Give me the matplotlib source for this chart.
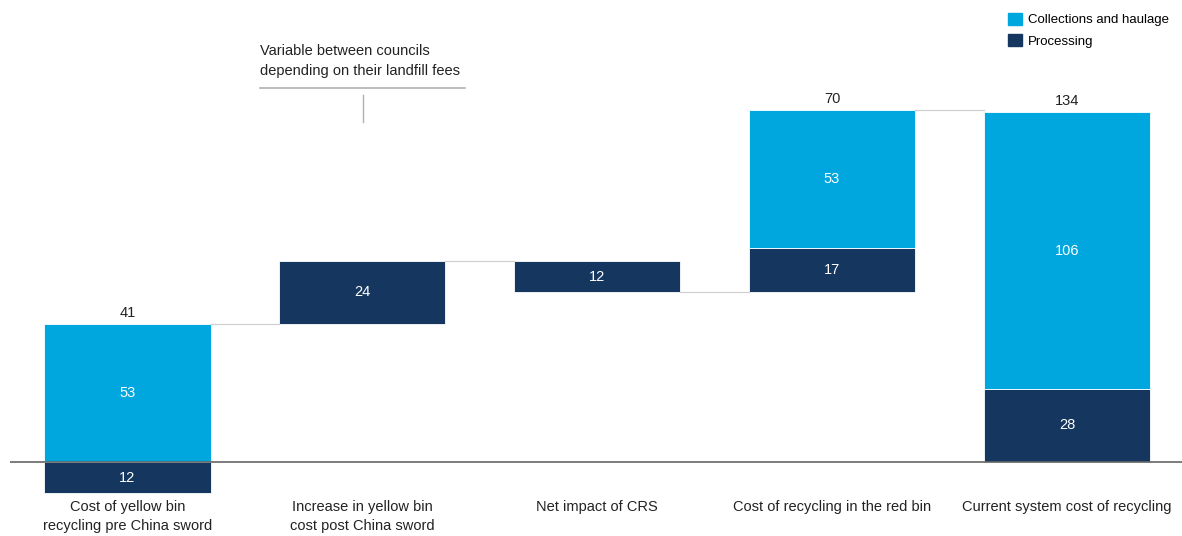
import numpy as np
import matplotlib.pyplot as plt

plt.rcParams['font.family'] = ['Liberation Sans', 'DejaVu Sans']

# cost breakdown per step of the waterfall
categories = [
    "Cost of yellow bin\nrecycling pre China sword",
    "Increase in yellow bin\ncost post China sword",
    "Net impact of CRS",
    "Cost of recycling in the red bin",
    "Current system cost of recycling",
]
collections = [53, 0, 0, 53, 106]
processing = [-12, 24, -12, 17, 28]
totals = [41, None, None, 70, 134]

col_blue = "#00A6DE"
col_navy = "#15365E"

fig = plt.figure(figsize=(11.82, 5.36), dpi=100)
ax = fig.add_axes([0.0085, 0, 0.9915, 1])
ax.set_xlim(-0.5, 4.49)
ax.set_ylim(-28.35, 177.0)
ax.axis("off")

width = 0.707
x = np.arange(len(categories))

# running level that floating bars start from
level = 0
tops = []
bottoms = []
for i in range(len(categories)):
    if i == 0 or i == len(categories) - 1:
        # full bars sitting on the zero line
        if processing[i] < 0:
            ax.bar(x[i], processing[i], width, bottom=0, color=col_navy,
                   edgecolor="white", linewidth=0.6)
            ax.bar(x[i], collections[i], width, bottom=0, color=col_blue,
                   edgecolor="white", linewidth=0.6)
            ax.text(x[i], processing[i] / 2, str(abs(processing[i])), color="white",
                    ha="center", va="center", fontsize=10.5)
            bottom, top = 0, collections[i]
        else:
            ax.bar(x[i], processing[i], width, bottom=0, color=col_navy,
                   edgecolor="white", linewidth=0.6)
            ax.bar(x[i], collections[i], width, bottom=processing[i], color=col_blue,
                   edgecolor="white", linewidth=0.6)
            ax.text(x[i], processing[i] / 2, str(processing[i]), color="white",
                    ha="center", va="center", fontsize=10.5)
            bottom, top = 0, processing[i] + collections[i]
        ax.text(x[i], top - collections[i] / 2 if processing[i] >= 0 else collections[i] / 2,
                str(collections[i]), color="white", ha="center", va="center", fontsize=10.5)
    else:
        start = level
        if processing[i] < 0:
            # a reduction hangs down from the previous level
            ax.bar(x[i], processing[i], width, bottom=start, color=col_navy,
                   edgecolor="white", linewidth=0.6)
            ax.text(x[i], start + processing[i] / 2, str(abs(processing[i])), color="white",
                    ha="center", va="center", fontsize=10.5)
            bottom, top = start + processing[i], start
        else:
            ax.bar(x[i], processing[i], width, bottom=start, color=col_navy,
                   edgecolor="white", linewidth=0.6)
            ax.text(x[i], start + processing[i] / 2, str(processing[i]), color="white",
                    ha="center", va="center", fontsize=10.5)
            top = start + processing[i]
            if collections[i]:
                ax.bar(x[i], collections[i], width, bottom=top, color=col_blue,
                       edgecolor="white", linewidth=0.6)
                ax.text(x[i], top + collections[i] / 2, str(collections[i]), color="white",
                        ha="center", va="center", fontsize=10.5)
                top += collections[i]
            bottom = start
    tops.append(top)
    bottoms.append(bottom)
    level = top if processing[i] >= 0 or i == 0 else bottom
    if totals[i] is not None:
        ax.text(x[i], top + 1.5, str(totals[i]), ha="center", va="bottom",
                fontsize=10.5, color="#222222")

# connectors between consecutive bars
conn = [tops[0], tops[1], bottoms[2], tops[3]]
for i, y in enumerate(conn):
    ax.plot([x[i] + width / 2, x[i + 1] - width / 2], [y, y],
            color="#D0D0D0", linewidth=0.9)

# zero line
ax.axhline(0, color="#666666", linewidth=1.2)

# category labels under the axis
for i, lab in enumerate(categories):
    ax.text(x[i], -14.6, lab, ha="center", va="top", fontsize=10.5,
            color="#222222", linespacing=1.45)

# note about landfill fees
ax.text(0.564, 153.6, "Variable between councils\ndepending on their landfill fees",
        ha="left", va="center", fontsize=10.5, color="#222222", linespacing=1.6)
ax.plot([0.564, 1.437], [143.3, 143.3], color="#B0B0B0", linewidth=1.2)
ax.plot([1.004, 1.004], [140.6, 130.3], color="#B0B0B0", linewidth=1.0)

# legend
ax.legend(handles=[plt.Rectangle((0, 0), 1, 1, color=col_blue),
                   plt.Rectangle((0, 0), 1, 1, color=col_navy)],
          labels=["Collections and haulage", "Processing"],
          loc="upper right", bbox_to_anchor=(0.997, 0.993), frameon=False,
          fontsize=9.5, handlelength=1.0, handleheight=1.0, handletextpad=0.5,
          labelspacing=0.6, borderaxespad=0.3)

fig.savefig("out.png", dpi=100)
